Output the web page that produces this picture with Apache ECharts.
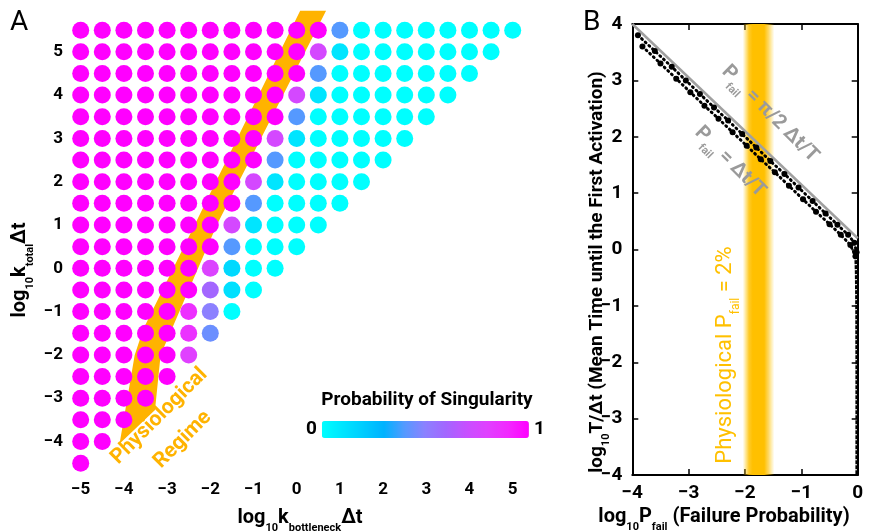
<!DOCTYPE html>
<html>
<head>
<meta charset="utf-8">
<script src="https://cdn.jsdelivr.net/npm/echarts@6/dist/echarts.min.js"></script>
<style>
  html, body { margin: 0; padding: 0; background: #fff; }
  #chart { width: 869px; height: 531px; }
</style>
</head>
<body>
<div id="chart"></div>
<script>
// ---- panel A: probability of singularity ----
var kBottleneck = [-5, -4.5, -4, -3.5, -3, -2.5, -2, -1.5, -1, -0.5, 0, 0.5, 1, 1.5, 2, 2.5, 3, 3.5, 4, 4.5, 5]
var kTotal = [5.5, 5, 4.5, 4, 3.5, 3, 2.5, 2, 1.5, 1, 0.5, 0, -0.5, -1, -1.5, -2, -2.5, -3, -3.5, -4, -4.5]
// one row per kTotal, values for kBottleneck from -5 upwards
var singularity = [
  [1, 1, 1, 1, 1, 1, 1, 1, 1, 1, 1, 1, 0.4, 0, 0, 0, 0, 0, 0, 0, 0],
  [1, 1, 1, 1, 1, 1, 1, 1, 1, 1, 1, 0.75, 0.1, 0, 0, 0, 0, 0, 0, 0],
  [1, 1, 1, 1, 1, 1, 1, 1, 1, 1, 1, 0.4, 0, 0, 0, 0, 0, 0, 0],
  [1, 1, 1, 1, 1, 1, 1, 1, 1, 1, 0.75, 0.1, 0, 0, 0, 0, 0, 0],
  [1, 1, 1, 1, 1, 1, 1, 1, 1, 1, 0.4, 0, 0, 0, 0, 0, 0],
  [1, 1, 1, 1, 1, 1, 1, 1, 1, 0.75, 0.1, 0, 0, 0, 0, 0],
  [1, 1, 1, 1, 1, 1, 1, 1, 1, 0.4, 0, 0, 0, 0, 0],
  [1, 1, 1, 1, 1, 1, 1, 1, 0.75, 0.1, 0, 0, 0, 0],
  [1, 1, 1, 1, 1, 1, 1, 1, 0.4, 0, 0, 0, 0],
  [1, 1, 1, 1, 1, 1, 1, 0.75, 0.1, 0, 0, 0],
  [1, 1, 1, 1, 1, 1, 1, 0.4, 0, 0, 0],
  [1, 1, 1, 1, 1, 1, 0.78, 0.15, 0, 0],
  [1, 1, 1, 1, 1, 1, 0.6, 0.12, 0],
  [1, 1, 1, 1, 1, 0.87, 0.5, 0],
  [1, 1, 1, 1, 1, 0.86, 0.44],
  [1, 1, 1, 1, 1, 0.8],
  [1, 1, 1, 1, 1],
  [1, 1, 1, 1],
  [1, 1, 1],
  [1, 1],
  [1]
]
var colorStops = ['#00ffff', '#00e5ff', '#00ccff', '#00b2ff', '#5599ff', '#8c80ff', '#a366ff', '#c750ff', '#e040ff', '#f228ff', '#ff00ff']
// outline of the physiological regime (kBottleneck, kTotal)
var regimeBand = [[-4.1, -4.05], [-3.75, -2.0], [-3.55, -1.4], [0.08, 5.95], [0.68, 5.95], [-1.85, 1.0], [-3.15, -2.0], [-3.28, -3.27]]

// ---- panel B: mean time vs failure probability ----
var piLine = [[-4, 4.0], [0, 0.2]]
var traceUpper = [[-3.9, 3.8], [-3.6, 3.52], [-3.3, 3.24], [-3.05, 3.0], [-2.8, 2.76], [-2.55, 2.52], [-2.3, 2.29], [-2.05, 2.05], [-1.8, 1.81], [-1.55, 1.57], [-1.3, 1.34], [-1.05, 1.1], [-0.8, 0.86], [-0.57, 0.64], [-0.36, 0.44], [-0.17, 0.26], [-0.06, 0.12], [-0.02, -0.05]]
var traceLower = [[-3.82, 3.6], [-3.5, 3.3], [-3.22, 3.03], [-2.97, 2.79], [-2.72, 2.55], [-2.47, 2.32], [-2.22, 2.08], [-1.97, 1.84], [-1.72, 1.6], [-1.47, 1.37], [-1.22, 1.13], [-0.97, 0.89], [-0.74, 0.67], [-0.5, 0.45], [-0.3, 0.26], [-0.13, 0.08], [-0.04, -0.12]]
var traceVertical = [[-0.03, -0.1], [-0.02, -0.4], [-0.015, -0.8], [-0.012, -1.2], [-0.012, -1.6], [-0.01, -2.0], [-0.01, -2.5], [-0.01, -3.0], [-0.01, -3.5], [-0.01, -4.0]]
var physioBand = [-2.04, -1.48]

var FONT = "Roboto, 'DejaVu Sans', sans-serif"
var ORANGE = '#ffb300'
var GOLD = '#ffc000'
var GRAY = '#9a9a9a'

var dots = []
kTotal.forEach(function (y, r) {
  singularity[r].forEach(function (p, i) {
    dots.push([kBottleneck[i], y, p])
  })
})

function minus(v) {
  return String(v).replace('-', '\u2212')
}

function rich(size, sub, color, weight) {
  return {
    m: { fontSize: size, fontWeight: weight || 'bold', fontFamily: FONT, fill: color, lineHeight: Math.round(size * 1.55) },
    s: { fontSize: sub, fontWeight: weight || 'bold', fontFamily: FONT, fill: color, lineHeight: sub, verticalAlign: 'bottom' }
  }
}

function text(x, y, rot, str, size, sub, color, weight) {
  return {
    type: 'text', x: x, y: y, rotation: rot, silent: true, z: 100,
    style: { text: str, rich: rich(size, sub, color, weight), align: 'center', verticalAlign: 'middle' }
  }
}

var frameAxis = {
  axisLine: { onZero: false, lineStyle: { color: '#000', width: 2 } },
  axisTick: { inside: true, length: 6, lineStyle: { color: '#000', width: 1.5 } },
  splitLine: { show: false }
}

var myChart = echarts.init(document.getElementById('chart'))
var option = {
  animation: false,
  textStyle: { fontFamily: FONT },
  grid: [
    { left: 37.5, top: 8.5, width: 518.4, height: 476.3 },
    { left: 632.3, top: 24, width: 225.4, height: 451 }
  ],
  xAxis: [
    {
      gridIndex: 0, type: 'value', min: -6, max: 6, interval: 1, offset: -12,
      axisLine: { show: false }, axisTick: { show: false }, splitLine: { show: false },
      axisLabel: {
        margin: 8, fontSize: 17, fontWeight: 'bold', color: '#000',
        formatter: function (v) { return Math.abs(v) === 6 ? '' : minus(v) }
      }
    },
    Object.assign({
      gridIndex: 1, type: 'value', min: -4, max: 0, interval: 1, position: 'bottom',
      axisLabel: { margin: 9, fontSize: 19, fontWeight: 'bold', color: '#000', formatter: minus }
    }, frameAxis),
    Object.assign({
      gridIndex: 1, type: 'value', min: -4, max: 0, interval: 1, position: 'top',
      axisLabel: { show: false }
    }, frameAxis)
  ],
  yAxis: [
    {
      gridIndex: 0, type: 'value', min: -5, max: 6, interval: 1, offset: -31.5,
      axisLine: { show: false }, axisTick: { show: false }, splitLine: { show: false },
      axisLabel: {
        margin: 6, fontSize: 17, fontWeight: 'bold', color: '#000',
        formatter: function (v) { return (v === -5 || v === 6) ? '' : minus(v) }
      }
    },
    Object.assign({
      gridIndex: 1, type: 'value', min: -4, max: 4, interval: 1, position: 'left',
      axisLabel: { margin: 10, fontSize: 19, fontWeight: 'bold', color: '#000', formatter: minus }
    }, frameAxis),
    Object.assign({
      gridIndex: 1, type: 'value', min: -4, max: 4, interval: 1, position: 'right',
      axisLabel: { show: false }
    }, frameAxis)
  ],
  visualMap: {
    type: 'continuous', seriesIndex: 1, dimension: 2, min: 0, max: 1,
    orient: 'horizontal', left: 306, top: 420, padding: 0,
    itemWidth: 17, itemHeight: 207, text: ['1', '0'], textGap: 5,
    calculable: false, hoverLink: false,
    inRange: { color: colorStops },
    textStyle: { color: '#000', fontSize: 19, fontWeight: 'bold', fontFamily: FONT }
  },
  series: [
    {
      type: 'custom', xAxisIndex: 0, yAxisIndex: 0, silent: true,
      data: [[0, 0]],
      renderItem: function (params, api) {
        var pts = regimeBand.map(function (p) { return api.coord(p) })
        return { type: 'polygon', shape: { points: pts }, style: { fill: ORANGE } }
      }
    },
    {
      type: 'scatter', xAxisIndex: 0, yAxisIndex: 0, silent: true,
      symbolSize: 17, itemStyle: { opacity: 1 }, data: dots
    },
    {
      type: 'line', xAxisIndex: 1, yAxisIndex: 1, silent: true,
      data: piLine, showSymbol: false,
      lineStyle: { color: '#a0a0a0', width: 2.5 },
      markArea: {
        silent: true,
        itemStyle: {
          color: new echarts.graphic.LinearGradient(0, 0, 1, 0, [
            { offset: 0, color: 'rgba(255,200,0,0)' },
            { offset: 0.2, color: 'rgba(255,192,0,0.85)' },
            { offset: 0.32, color: GOLD },
            { offset: 0.68, color: GOLD },
            { offset: 0.82, color: 'rgba(255,192,0,0.6)' },
            { offset: 1, color: 'rgba(255,200,0,0)' }
          ])
        },
        data: [[{ xAxis: physioBand[0] }, { xAxis: physioBand[1] }]]
      }
    },
    {
      type: 'line', xAxisIndex: 1, yAxisIndex: 1, silent: true,
      data: traceUpper, symbol: 'circle', symbolSize: 6,
      itemStyle: { color: '#000' },
      lineStyle: { color: '#000', width: 3, type: [1, 4], cap: 'round' }
    },
    {
      type: 'line', xAxisIndex: 1, yAxisIndex: 1, silent: true,
      data: traceLower, symbol: 'circle', symbolSize: 6,
      itemStyle: { color: '#000' },
      lineStyle: { color: '#000', width: 3, type: [1, 4], cap: 'round' }
    },
    {
      type: 'line', xAxisIndex: 1, yAxisIndex: 1, silent: true,
      data: traceVertical, showSymbol: false,
      lineStyle: { color: '#000', width: 3.5, type: [4, 1] }
    }
  ],
  graphic: [
    { type: 'text', x: 10, y: 9, z: 100, silent: true, style: { text: 'A', fontSize: 28, fontFamily: FONT, fill: '#000' } },
    { type: 'text', x: 583, y: 9, z: 100, silent: true, style: { text: 'B', fontSize: 28, fontFamily: FONT, fill: '#000' } },
    text(300, 518, 0, '{m|log}{s|10}{m|k}{s|bottleneck}{m|\u0394t}', 20, 11, '#000'),
    text(20, 270, Math.PI / 2, '{m|log}{s|10}{m|k}{s|total}{m|\u0394t}', 20, 11, '#000'),
    text(427, 400, 0, '{m|Probability of Singularity}', 19, 11, '#000'),
    text(171, 428, Math.PI / 4, '{m|Physiological}\n{m|Regime}', 21, 11, ORANGE),
    text(770, 114, -Math.PI / 4, '{m|P}{s|fail}{m| = \u03c0/2 \u0394t/T}', 20, 11, GRAY),
    text(730, 162, -Math.PI / 4, '{m|P}{s|fail}{m| = \u0394t/T}', 20, 11, GRAY),
    text(725, 355, Math.PI / 2, '{m|Physiological P}{s|fail}{m| = 2%}', 22, 12, GOLD, 'normal'),
    text(724, 517, 0, '{m|log}{s|10}{m|P}{s|fail}{m| (Failure Probability)}', 20, 11, '#000'),
    text(597, 272, Math.PI / 2, '{m|log}{s|10}{m|T/\u0394t (Mean Time until the First Activation)}', 19, 11, '#000')
  ]
}

option && myChart.setOption(option)
</script>
</body>
</html>
